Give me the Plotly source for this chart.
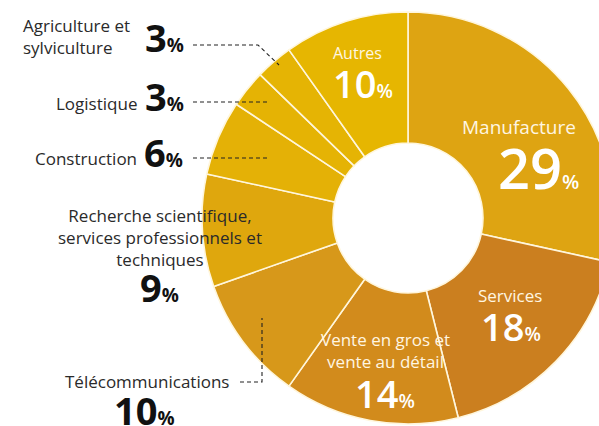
import plotly.graph_objects as go

# secteurs dans l'ordre horaire à partir de midi
secteurs = ["Manufacture", "Services", "Vente en gros et vente au détail", "Télécommunications",
            "Recherche scientifique, services professionnels et techniques", "Construction",
            "Logistique", "Agriculture et sylviculture", "Autres"]
parts = [29, 18, 14, 10, 9, 6, 3, 3, 10]
couleurs = ["#DEA412", "#CB7F1F", "#D28B1C", "#D7981A", "#DFA70D", "#E4B106",
            "#E5B304", "#E5B404", "#E6B601"]

# étiquettes affichées (texte)
lab_int = {0: "Manufacture", 1: "Services", 2: "Vente en gros et<br>vente au détail", 8: "Autres"}
lab_ext = {7: "Agriculture et<br>sylviculture", 6: "Logistique", 5: "Construction",
           3: "Télécommunications", 4: "Recherche scientifique,<br>services professionnels et<br>techniques"}

W, H = 620, 426
FONT = "Open Sans"


def px(x):
    return x / W


def py(y):
    return 1 - y / H


fig = go.Figure(go.Pie(
    labels=secteurs, values=parts, sort=False, direction="clockwise", rotation=0,
    hole=0.364, textinfo="none", hoverinfo="skip",
    marker=dict(colors=couleurs, line=dict(color="#FFF6DC", width=1.6)),
    domain=dict(x=[px(202), px(614)], y=[py(424), py(12)]),
))


def pct(v, small):
    return f"{v}<span style='font-size:{small}px'>%</span>"


ann = []
# étiquettes intérieures (blanches) : x, y étiquette, taille, x/y nombre, taille nombre
inner = {0: (519, 127, 19, 538, 167, 56, 20), 1: (510, 295, 17, 511, 326, 38, 19),
         2: (385, 350, 17, 385, 393, 38, 19), 8: (357, 53, 16, 363, 83, 38, 19)}
for i, (x, yl, fs, xn, yn, big, small) in inner.items():
    ann.append(dict(x=px(x), y=py(yl), text=lab_int[i], font=dict(size=fs, color="#FFF6E2")))
    ann.append(dict(x=px(xn), y=py(yn), text=pct(parts[i], small),
                    font=dict(size=big, color="white", weight=600)))

# étiquettes extérieures
noir = dict(size=17, color="#2A2A2A")
ann.append(dict(x=px(21), y=py(36), text=lab_ext[7], xanchor="left", align="left", font=noir))
ann.append(dict(x=px(139), y=py(103), text=lab_ext[6], xanchor="right", font=noir))
ann.append(dict(x=px(139), y=py(158), text=lab_ext[5], xanchor="right", font=noir))
ann.append(dict(x=px(160), y=py(237), text=lab_ext[4], align="center", font=noir))
ann.append(dict(x=px(231), y=py(381), text=lab_ext[3], xanchor="right", font=noir))
for i, x, y, xa in ((7, 143, 37, "left"), (6, 143, 96, "left"), (5, 142, 152, "left"),
                    (4, 159, 287, "center"), (3, 144, 410, "center")):
    ann.append(dict(x=px(x), y=py(y), text=pct(parts[i], 19), xanchor=xa,
                    font=dict(size=38, color="#111", weight="bold")))

for a in ann:
    a.setdefault("xanchor", "center")
    a.update(xref="paper", yref="paper", yanchor="middle", showarrow=False)

# lignes de rappel pointillées
traits = [[(193, 45), (258, 45), (279, 65)], [(193, 102), (268, 102)], [(193, 158), (268, 158)],
          [(240, 382), (262, 382), (262, 318)]]
shapes = []
for t in traits:
    path = "M " + " L ".join(f"{px(x)},{py(y)}" for x, y in t)
    shapes.append(dict(type="path", path=path, xref="paper", yref="paper",
                       line=dict(color="#222", width=1.1, dash="4px,3px")))

fig.update_layout(
    width=W, height=H, margin=dict(l=0, r=0, t=0, b=0),
    paper_bgcolor="white", plot_bgcolor="white", showlegend=False,
    font=dict(family=FONT), annotations=ann, shapes=shapes,
)

fig.write_html("out.html", config={"displayModeBar": False},
               post_script="document.body.style.margin='0';document.body.style.overflow='hidden';")
